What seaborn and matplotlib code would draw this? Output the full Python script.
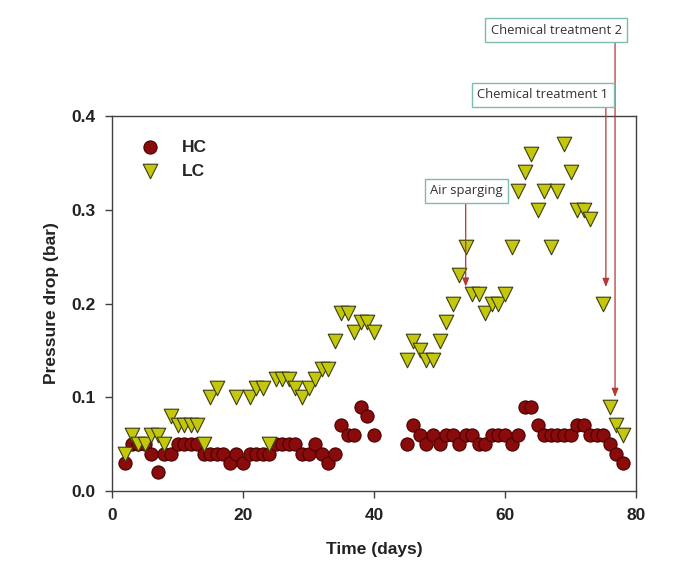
import matplotlib
matplotlib.use("Agg")
import matplotlib.pyplot as plt
import seaborn as sns
import pandas as pd

# ---- data ----
hc_days = [2, 3, 4, 5, 6, 7, 8, 9, 10, 11, 12, 13, 14, 15, 16, 17, 18, 19, 20,
           21, 22, 23, 24, 25, 26, 27, 28, 29, 30, 31, 32, 33, 34, 35, 36, 37, 38, 39, 40,
           45, 46, 47, 48, 49, 50, 51, 52, 53, 54, 55, 56, 57, 58, 59, 60, 61, 62,
           63, 64, 65, 66, 67, 68, 69, 70, 71, 72, 73, 74, 75, 76, 77, 78]
hc_vals = [0.03, 0.05, 0.05, 0.05, 0.04, 0.02, 0.04, 0.04, 0.05, 0.05, 0.05, 0.05, 0.04, 0.04, 0.04, 0.04, 0.03, 0.04, 0.03,
           0.04, 0.04, 0.04, 0.04, 0.05, 0.05, 0.05, 0.05, 0.04, 0.04, 0.05, 0.04, 0.03, 0.04, 0.07, 0.06, 0.06, 0.09, 0.08, 0.06,
           0.05, 0.07, 0.06, 0.05, 0.06, 0.05, 0.06, 0.06, 0.05, 0.06, 0.06, 0.05, 0.05, 0.06, 0.06, 0.06, 0.05, 0.06,
           0.09, 0.09, 0.07, 0.06, 0.06, 0.06, 0.06, 0.06, 0.07, 0.07, 0.06, 0.06, 0.06, 0.05, 0.04, 0.03]

lc_days = [2, 3, 4, 5, 6, 7, 8, 9, 10, 11, 12, 13, 14, 15, 16, 19, 21, 22, 23, 24,
           25, 26, 27, 28, 29, 30, 31, 32, 33, 34, 35, 36, 37, 38, 39, 40,
           45, 46, 47, 48, 49, 50, 51, 52, 53, 54, 55, 56, 57, 58, 59, 60, 61, 62,
           63, 64, 65, 66, 67, 68, 69, 70, 71, 72, 73, 75, 76, 77, 78]
lc_vals = [0.04, 0.06, 0.05, 0.05, 0.06, 0.06, 0.05, 0.08, 0.07, 0.07, 0.07, 0.07, 0.05, 0.10, 0.11, 0.10, 0.10, 0.11, 0.11, 0.05,
           0.12, 0.12, 0.12, 0.11, 0.10, 0.11, 0.12, 0.13, 0.13, 0.16, 0.19, 0.19, 0.17, 0.18, 0.18, 0.17,
           0.14, 0.16, 0.15, 0.14, 0.14, 0.16, 0.18, 0.20, 0.23, 0.26, 0.21, 0.21, 0.19, 0.20, 0.20, 0.21, 0.26, 0.32,
           0.34, 0.36, 0.30, 0.32, 0.26, 0.32, 0.37, 0.34, 0.30, 0.30, 0.29, 0.20, 0.09, 0.07, 0.06]

series_labels = ["HC", "LC"]
x_ticks = [0, 20, 40, 60, 80]
y_ticks = [0.0, 0.1, 0.2, 0.3, 0.4]
annot_texts = ["Air sparging", "Chemical treatment 1", "Chemical treatment 2"]

# ---- style ----
sns.set_style("ticks")
plt.rcParams["font.family"] = ["Liberation Sans", "DejaVu Sans"]

fig = plt.figure(figsize=(6.8, 5.68), dpi=100)
ax = fig.add_axes([112 / 680, 1 - 491 / 568, 524 / 680, 375 / 568])

df_hc = pd.DataFrame({"day": hc_days, "val": hc_vals})
df_lc = pd.DataFrame({"day": lc_days, "val": lc_vals})

sns.scatterplot(data=df_hc, x="day", y="val", ax=ax, marker="o", s=90,
                color="#8a0b0b", edgecolor="#4a0000", linewidth=0.8,
                label=series_labels[0], zorder=3)
sns.scatterplot(data=df_lc, x="day", y="val", ax=ax, marker="v", s=110,
                color="#c4c80c", edgecolor="#3d3d10", linewidth=0.8,
                label=series_labels[1], zorder=4)

ax.set_xlim(0, 80)
ax.set_ylim(0, 0.4)
ax.set_xticks(x_ticks)
ax.set_yticks(y_ticks)
ax.set_xticklabels([f"{t:d}" for t in x_ticks])
ax.set_yticklabels([f"{t:.1f}" for t in y_ticks])
for sp in ax.spines.values():
    sp.set_visible(True)
    sp.set_color("#404040")
    sp.set_linewidth(1.0)
ax.tick_params(axis="both", direction="out", length=5, width=1.0, color="#404040",
               labelsize=12.5, pad=7, top=False, right=False)
for lab in ax.get_xticklabels() + ax.get_yticklabels():
    lab.set_fontweight("bold")
    lab.set_color("#222222")

ax.set_xlabel("Time (days)", fontsize=12.5, fontweight="bold", color="#222222", labelpad=14)
ax.set_ylabel("Pressure drop (bar)", fontsize=12.5, fontweight="bold", color="#222222", labelpad=9)

leg = ax.legend(loc="upper left", bbox_to_anchor=(0.02, 0.965), frameon=False,
                handletextpad=0.8, labelspacing=0.5, borderaxespad=0.2,
                prop={"weight": "bold", "size": 12.5})

# ---- annotations ----
box = dict(boxstyle="square,pad=0.42", facecolor="white", edgecolor="#7dbcb0", linewidth=1.0)
afont = dict(family=["Open Sans", "DejaVu Sans"], size=9.4, color="#333333")
arrow = dict(arrowstyle="-|>,head_length=0.5,head_width=0.2", color="#b23a32",
             lw=0.9, shrinkA=0, shrinkB=0)

# Air sparging
ax.text(54.1, 0.3205, annot_texts[0], ha="center", va="center", bbox=box, zorder=6, **afont)
ax.annotate("", xy=(54.0, 0.218), xytext=(54.0, 0.307), arrowprops=arrow, zorder=5)
# Chemical treatment 1
ax.text(65.8, 0.4229, annot_texts[1], ha="center", va="center", bbox=box, zorder=6,
        clip_on=False, **afont)
ax.annotate("", xy=(75.4, 0.2176), xytext=(75.4, 0.409), arrowprops=arrow,
            annotation_clip=False, zorder=5)
# Chemical treatment 2
ax.text(67.8, 0.4917, annot_texts[2], ha="center", va="center", bbox=box, zorder=6,
        clip_on=False, **afont)
ax.annotate("", xy=(76.8, 0.1003), xytext=(76.8, 0.478), arrowprops=arrow,
            annotation_clip=False, zorder=5)

fig.savefig("out.png", dpi=100)
